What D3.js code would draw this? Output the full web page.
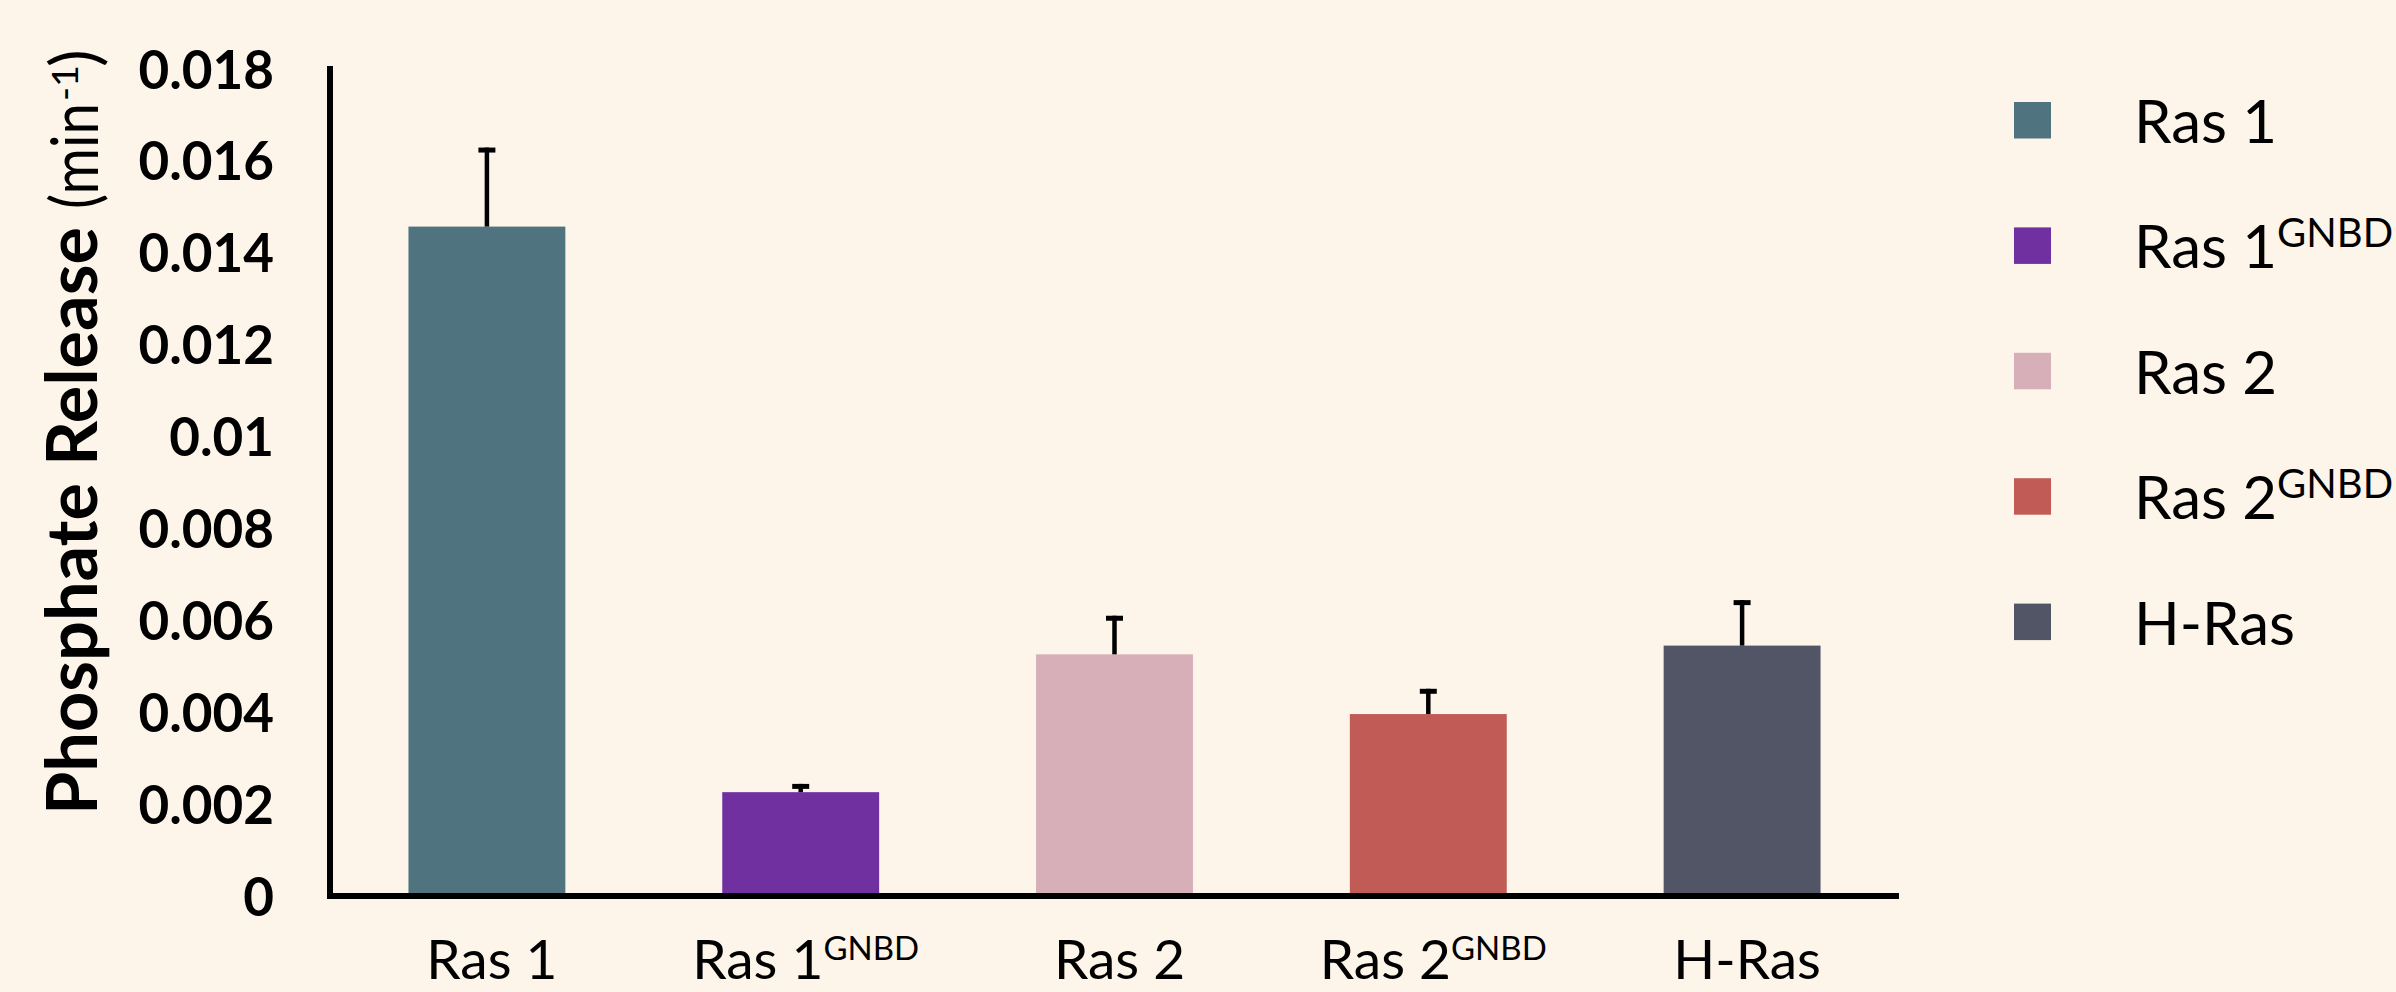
<!DOCTYPE html>
<html>
<head>
<meta charset="utf-8">
<script src="https://cdn.jsdelivr.net/npm/d3@7"></script>
<style>
  html, body { margin: 0; padding: 0; background: #FEF5EA; }
  svg { display: block; }
</style>
</head>
<body>
<svg id="chart" width="2396" height="992"></svg>
<script>
// ---- data ----
const categories = ["Ras 1", "Ras 1", "Ras 2", "Ras 2", "H-Ras"];
const superscripts = ["", "GNBD", "", "GNBD", ""];
const values = [0.01457, 0.00226, 0.00526, 0.00396, 0.00545];
const errors = [0.00172, 0.00018, 0.00084, 0.00055, 0.00099];
const colors = ["#50747F", "#7030A0", "#D6AFB9", "#C15B56", "#525565"];
const yTicks = [0, 0.002, 0.004, 0.006, 0.008, 0.01, 0.012, 0.014, 0.016, 0.018];
const yTickLabels = ["0", "0.002", "0.004", "0.006", "0.008", "0.01", "0.012", "0.014", "0.016", "0.018"];
const yTitle = "Phosphate Release";
const yUnit = "(min";
const yUnitSup = "-1";

// ---- layout ----
const FONT = "Lato, 'Open Sans', sans-serif";
const svg = d3.select("#chart");
const X0 = 330, X1 = 1899, Y0 = 896, Y1 = 69;
const ids = categories.map((c, i) => i);

const x = d3.scaleBand().domain(ids).range([X0, X1]).paddingInner(0.5).paddingOuter(0.25);
const y = d3.scaleLinear().domain([0, 0.018]).range([Y0, Y1]);

svg.append("rect").attr("width", 2396).attr("height", 992).attr("fill", "#FEF5EA");

// bars
svg.append("g").selectAll("rect").data(ids).join("rect")
  .attr("x", i => x(i))
  .attr("y", i => y(values[i]))
  .attr("width", x.bandwidth())
  .attr("height", i => y(0) - y(values[i]))
  .attr("fill", i => colors[i]);

// error bars (upper only)
const eb = svg.append("g").attr("stroke", "#000");
eb.selectAll("line.stem").data(ids).join("line").attr("class", "stem")
  .attr("x1", i => x(i) + x.bandwidth() / 2)
  .attr("x2", i => x(i) + x.bandwidth() / 2)
  .attr("y1", i => y(values[i]))
  .attr("y2", i => y(values[i] + errors[i]))
  .attr("stroke-width", 4.5);
eb.selectAll("line.cap").data(ids).join("line").attr("class", "cap")
  .attr("x1", i => x(i) + x.bandwidth() / 2 - 8.5)
  .attr("x2", i => x(i) + x.bandwidth() / 2 + 8.5)
  .attr("y1", i => y(values[i] + errors[i]) + 2.5)
  .attr("y2", i => y(values[i] + errors[i]) + 2.5)
  .attr("stroke-width", 5);

// y axis
const yAxis = d3.axisLeft(y).tickValues(yTicks)
  .tickFormat((d, i) => yTickLabels[i]).tickSize(0).tickPadding(0);
const gy = svg.append("g").attr("transform", `translate(${X0},0)`).call(yAxis);
gy.select(".domain").attr("stroke", "#000").attr("stroke-width", 6)
  .attr("d", `M0,${Y1 - 3}V${Y0 + 3}`);
gy.selectAll(".tick text")
  .attr("x", 274 - X0)
  .attr("dy", "0.36em")
  .attr("text-anchor", "end")
  .style("font-family", FONT)
  .style("font-weight", "bold")
  .style("font-size", "53px")
  .attr("fill", "#000");

// x axis
const xAxis = d3.axisBottom(x).tickSize(0).tickFormat("");
const gx = svg.append("g").attr("transform", `translate(0,${Y0})`).call(xAxis);
gx.select(".domain").attr("stroke", "#000").attr("stroke-width", 6)
  .attr("d", `M${X0 - 3},0H${X1}`);

// x labels
const xl = svg.append("g").selectAll("text").data(ids).join("text")
  .attr("x", i => x(i) + x.bandwidth() / 2 + 5)
  .attr("y", 979)
  .attr("text-anchor", "middle")
  .style("font-family", FONT)
  .style("font-size", "55px")
  .attr("fill", "#000");
xl.append("tspan").text(i => categories[i]);
xl.filter(i => superscripts[i]).append("tspan")
  .attr("dy", -19).style("font-size", "33px").text(i => superscripts[i]);

// y title
svg.append("text")
  .attr("transform", "translate(97,815) rotate(-90)")
  .attr("textLength", 588).attr("lengthAdjust", "spacingAndGlyphs")
  .style("font-family", FONT)
  .style("font-weight", "bold").style("font-size", "70px")
  .attr("fill", "#000").text(yTitle);
svg.append("text")
  .attr("transform", "translate(98,209) rotate(-90)")
  .attr("textLength", 106).attr("lengthAdjust", "spacingAndGlyphs")
  .style("font-family", FONT)
  .style("font-size", "66px")
  .attr("fill", "#000").text(yUnit);
svg.append("text")
  .attr("transform", "translate(78,101) rotate(-90)")
  .attr("textLength", 36).attr("lengthAdjust", "spacingAndGlyphs")
  .style("font-family", FONT)
  .style("font-size", "36px")
  .attr("fill", "#000").text(yUnitSup);
svg.append("text")
  .attr("transform", "translate(98,67) rotate(-90)")
  .style("font-family", FONT)
  .style("font-size", "66px")
  .attr("fill", "#000").text(")");

// legend
const lg = svg.append("g").selectAll("g").data(ids).join("g")
  .attr("transform", (i) => `translate(2014,${102 + i * 125.4})`);
lg.append("rect").attr("width", 37).attr("height", 36.5).attr("fill", i => colors[i]);
const lt = lg.append("text").attr("x", 120).attr("y", 41)
  .style("font-family", FONT)
  .style("font-size", "60px").attr("fill", "#000");
lt.append("tspan").text(i => categories[i]);
lt.filter(i => superscripts[i]).append("tspan")
  .attr("dy", -21).style("font-size", "40px").text(i => superscripts[i]);
</script>
</body>
</html>
